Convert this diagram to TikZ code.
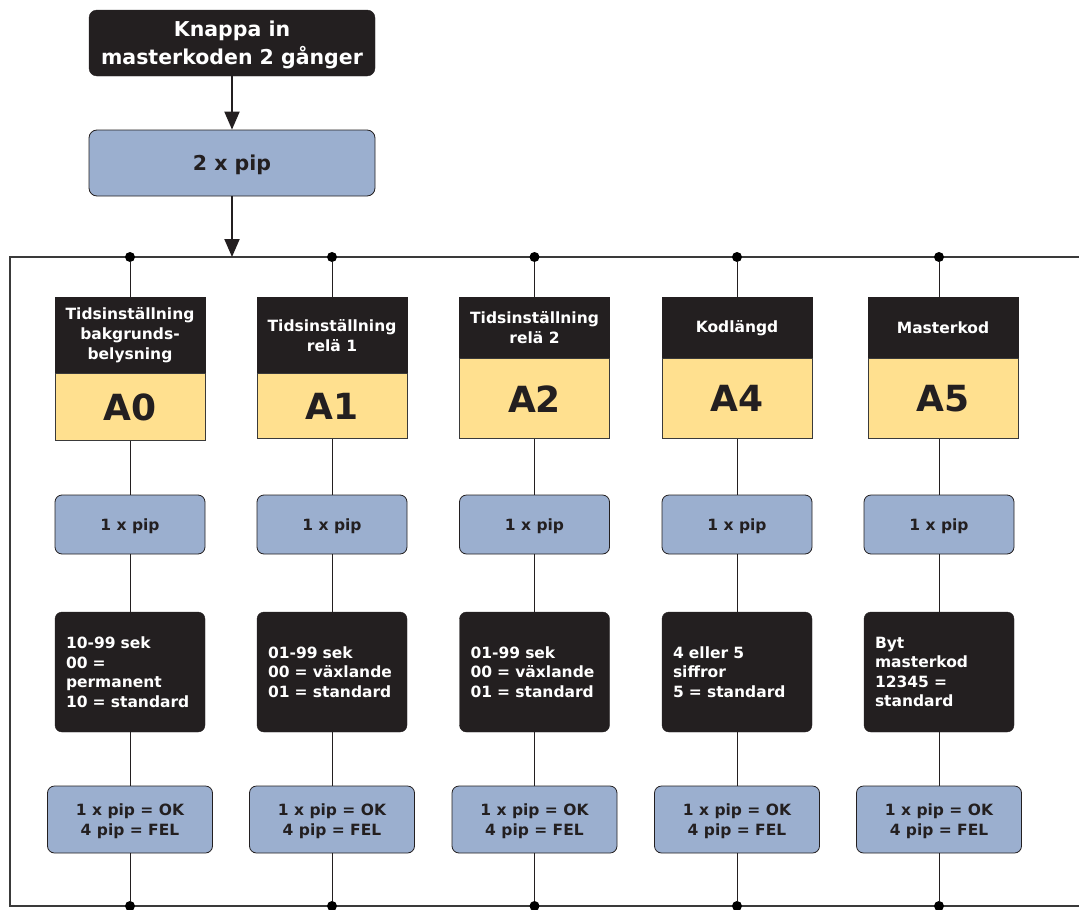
\documentclass[tikz,border=0pt]{standalone}
\usepackage{fontspec}
\setmainfont{DejaVu Sans}
\usetikzlibrary{positioning,arrows.meta}
\definecolor{boxdark}{HTML}{231F20}
\definecolor{pipblue}{HTML}{9BAFCF}
\definecolor{codeyellow}{HTML}{FFE08F}
\definecolor{linegray}{HTML}{3A3A3A}

\begin{document}
\begin{tikzpicture}[x=1pt, y=-1pt,
    headbox/.style={draw=boxdark, fill=boxdark, text=white, inner sep=0pt,
        minimum width=150, align=center, font=\bfseries\fontsize{15.5}{20}\selectfont},
    infobox/.style={headbox, rounded corners=7pt, minimum height=120,
        text width=128, align=left, font=\bfseries\fontsize{15.5}{19.5}\selectfont},
    pipbox/.style={draw=boxdark, line width=0.8pt, fill=pipblue, text=boxdark,
        rounded corners=7pt, inner sep=0pt, align=center, text depth=0pt,
        font=\bfseries\fontsize{15.5}{20}\selectfont},
    codebox/.style={draw=linegray, line width=0.8pt, fill=codeyellow, text=boxdark,
        inner sep=0pt, minimum width=150, font=\bfseries\fontsize{36}{40}\selectfont},
    bus/.style={draw=linegray, line width=1.5pt},
    link/.style={draw=boxdark, line width=1pt},
    dot/.style={circle, fill=black, inner sep=0pt, minimum size=10pt},
    flow/.style={draw=boxdark, line width=2pt, -{Triangle[length=18pt,width=15pt]}}]

    \useasboundingbox (0,0) rectangle (1079,910);

    % start
    \node[headbox, rounded corners=8pt, minimum width=286, minimum height=66,
        text depth=0pt, font=\bfseries\fontsize{20.5}{28}\selectfont] (knappa) at (232,43)
        {Knappa in\\masterkoden 2 gånger};
    \node[pipbox, rounded corners=8pt, minimum width=286, minimum height=66,
        font=\bfseries\fontsize{20.5}{24}\selectfont] (pip2) at (232,163) {2 x pip};

    % frame
    \coordinate (join) at (232,257);
    \coordinate (ftl) at (10,257);
    \coordinate (ftr) at (1079,257);
    \coordinate (fbl) at (10,906);
    \coordinate (fbr) at (1079,906);
    \draw[bus] (ftr) -- (ftl) -- (fbl) -- (fbr);

    \draw[flow] (knappa) -- (pip2);
    \draw[flow] (pip2) -- (join);

    % menu columns
    \foreach \i/\cx/\hx/\db/\yb/\head/\lab/\info in {
        0/130/130/373/440/{Tidsinställning\\bakgrunds-\\belysning}/A0/{10-99 sek\\00 =\\permanent\\10 = standard},
        1/332/332/373/438/{Tidsinställning\\relä 1}/A1/{01-99 sek\\00 = växlande\\01 = standard},
        2/534.5/534.5/358/438/{Tidsinställning\\relä 2}/A2/{01-99 sek\\00 = växlande\\01 = standard},
        3/737/737/358/438/{Kodlängd}/A4/{4 eller 5\\siffror\\5 = standard},
        4/939/943/358/438/{Masterkod}/A5/{Byt\\masterkod\\12345 =\\standard}} {
        \pgfmathsetmacro{\hh}{\db-297}
        \pgfmathsetmacro{\yh}{\yb-\db}
        \node[dot] (t\i) at (\cx,257) {};
        \node[dot] (b\i) at (\cx,906) {};
        \node[headbox, minimum height=\hh, anchor=north] (hd\i) at (\hx,297) {\head};
        \node[codebox, minimum height=\yh, anchor=north] (hy\i) at (hd\i.south) {\lab};
        \node[pipbox, minimum width=150, minimum height=59] (p\i) at (\cx,524.5) {1 x pip};
        \node[infobox] (inf\i) at (\cx,672) {\info};
        \node[pipbox, minimum width=165, minimum height=67] (r\i) at (\cx,819.5)
            {1 x pip = OK\\4 pip = FEL};
        \draw[link] (t\i) -- (t\i |- hd\i.north) (p\i |- hy\i.south) -- (p\i)
            (p\i) -- (inf\i) (inf\i) -- (r\i) (r\i) -- (b\i);
    }
\end{tikzpicture}
\end{document}
